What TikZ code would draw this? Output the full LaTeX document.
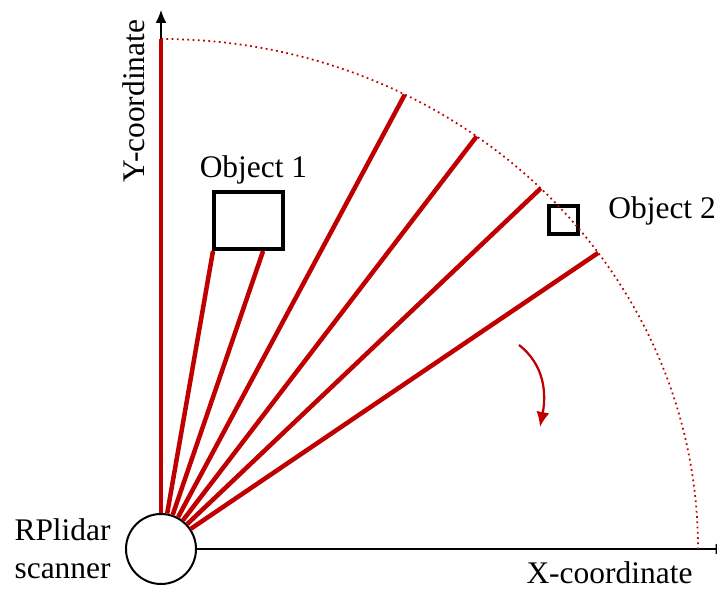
\documentclass[tikz,border=0pt]{standalone}
\usepackage{fontspec}
\setmainfont{Liberation Serif}
\newfontfamily\timesfont{Liberation Serif}
\definecolor{lidarred}{RGB}{192,0,0}
\usetikzlibrary{positioning,arrows.meta,calc}

\begin{document}
\begin{tikzpicture}[
    txt/.style={font=\timesfont\fontsize{17.9}{21.5}\selectfont, inner sep=0pt},
    object/.style={rectangle, draw=black, line width=0.08cm, inner sep=0pt},
    ray/.style={lidarred, line width=0.09cm},
    axis/.style={-{Latex[length=0.26cm,width=0.22cm]}, line width=0.03cm}
]
    \useasboundingbox (-3.22,-0.8) rectangle (11.12,10.98);

    \node[circle, draw, line width=0.04cm, minimum size=1.4cm, inner sep=0pt] (scanner) at (0,0) {};
    \node[object, minimum width=1.38cm, minimum height=1.14cm] (obj1) at (1.75,6.57) {};
    \node[object, minimum width=0.58cm, minimum height=0.56cm] (obj2) at (8.05,6.58) {};

    \coordinate (ytip) at (0,10.78);
    \coordinate (xtip) at (11.35,0);
    \coordinate (ytop) at (0,10.2);
    \draw[axis] (scanner) -- (ytip);
    \draw[axis] (scanner) -- (xtip);

    \draw[lidarred, dotted, line width=0.035cm] (ytop) arc[start angle=90, end angle=0, x radius=10.74cm, y radius=10.2cm];

    \draw[ray] (scanner) -- (ytop);
    \foreach \a [count=\i] in {63,54,45,35.5} {
        \coordinate (r\i) at (\a:10.74 and 10.2);
        \draw[ray] (scanner) -- (r\i);
    }
    \coordinate (hitA) at ([xshift=0.02cm]obj1.south west);
    \coordinate (hitB) at ($(obj1.south west)!0.7!(obj1.south east)$);
    \draw[ray] (scanner) -- (hitA);
    \draw[ray] (scanner) -- (hitB);

    \coordinate (turnA) at (7.16,4.08);
    \coordinate (turnB) at (7.58,2.44);
    \draw[lidarred, line width=0.045cm, -{Latex[length=0.3cm,width=0.26cm]}] (turnA) to[out=-38, in=79] (turnB);

    \node[txt, rotate=90] (ylabel) at (-0.54,8.96) {Y-coordinate};
    \node[txt] (xlabel) at (8.97,-0.47) {X-coordinate};
    \node[txt, above=0.11cm of obj1, xshift=0.1cm] (name1) {Object 1};
    \node[txt, right=0.56cm of obj2, yshift=0.18cm] (name2) {Object 2};
    \node[txt, align=center, left=0.28cm of scanner] (scannerlabel) {RPlidar\\scanner};
\end{tikzpicture}
\end{document}
